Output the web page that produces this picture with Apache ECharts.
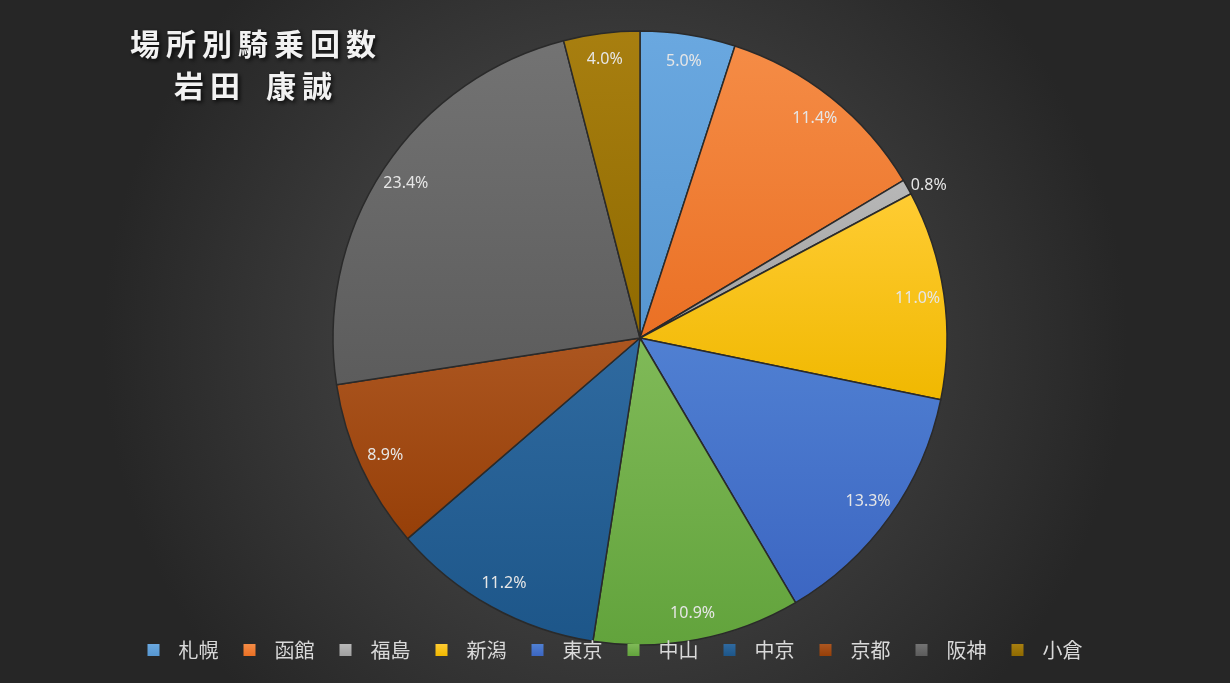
<!DOCTYPE html>
<html>
<head>
<meta charset="utf-8">
<script src="https://cdn.jsdelivr.net/npm/echarts@6/dist/echarts.min.js"></script>
<style>
  html, body { margin: 0; padding: 0; width: 100%; height: 100%; background: #333; }
  #main { width: 1230px; height: 683px; }
</style>
</head>
<body>
<div id="main"></div>
<script>
// 場所別騎乗回数 (割合)
var venues = ['札幌', '函館', '福島', '新潟', '東京', '中山', '中京', '京都', '阪神', '小倉'];
var shares = [5.0, 11.4, 0.8, 11.0, 13.3, 10.9, 11.2, 8.9, 23.4, 4.0];
var colorsTop = ['#6aa8e0', '#f58c46', '#b8b8b8', '#ffcc33', '#5080d2', '#80ba58', '#2f6aa0', '#ac5620', '#737373', '#a87f10'];
var colorsBottom = ['#5696d0', '#ea7024', '#a0a0a0', '#f0b800', '#3c66c2', '#62a33c', '#1d5689', '#963f08', '#5c5c5c', '#8f6a00'];
var titleLines = ['場所別騎乗回数', '岩田　康誠'];

var chart = echarts.init(document.getElementById('main'));

function sliceColor(i) {
    return new echarts.graphic.LinearGradient(0, 0, 0, 1, [
        { offset: 0, color: colorsTop[i] },
        { offset: 1, color: colorsBottom[i] }
    ]);
}

// 文字間を空けるため1文字ずつリッチテキストにする
function spaced(line) {
    return line.split('').map(function (ch) {
        return (ch === '　' ? '{s|' : '{c|') + ch + '}';
    }).join('');
}

var pieData = venues.map(function (name, i) {
    return { name: name, value: shares[i], itemStyle: { color: sliceColor(i) } };
});

// ラベル用の透明な外周リング (ラベルを外側寄りに置くため)
var labelData = venues.map(function (name, i) {
    var item = { name: name, value: shares[i] };
    if (shares[i] < 2) {
        item.label = { position: 'outside', distanceToLabelLine: 0, padding: [0, 0, 26, 0] };
        item.labelLine = { show: false, length: 4, length2: 0 };
    }
    return item;
});

var titleStyle = {
    color: '#f2f2f2',
    fontSize: 30,
    fontWeight: 'bold',
    lineHeight: 42,
    fontFamily: 'Noto Sans CJK JP',
    padding: [0, 3, 0, 3],
    textShadowColor: 'rgba(0,0,0,0.8)',
    textShadowBlur: 4,
    textShadowOffsetX: 2,
    textShadowOffsetY: 2
};

var option = {
    backgroundColor: new echarts.graphic.RadialGradient(0.5, 0.5, 0.75, [
        { offset: 0, color: '#535353' },
        { offset: 1, color: '#262626' }
    ]),
    title: {
        text: titleLines.map(spaced).join('\n'),
        left: 248,
        top: 18,
        textAlign: 'center',
        textStyle: {
            color: '#f2f2f2',
            fontSize: 30,
            fontWeight: 'bold',
            lineHeight: 42,
            fontFamily: 'Noto Sans CJK JP',
            rich: {
                c: titleStyle,
                s: { fontSize: 20, lineHeight: 42, fontFamily: 'Noto Sans CJK JP' }
            }
        }
    },
    legend: {
        bottom: 18,
        left: 'center',
        icon: 'rect',
        itemWidth: 12,
        itemHeight: 12,
        itemGap: 25,
        data: venues,
        itemStyle: { borderWidth: 0 },
        textStyle: {
            color: '#d9d9d9',
            fontSize: 20,
            fontFamily: 'Noto Sans CJK JP',
            padding: [0, 0, 0, 14]
        }
    },
    series: [
        {
            type: 'pie',
            center: [640, 338],
            radius: [0, 307],
            startAngle: 90,
            clockwise: true,
            silent: true,
            label: { show: false },
            labelLine: { show: false },
            itemStyle: { borderColor: '#2a2a2a', borderWidth: 1.5 },
            data: pieData
        },
        {
            type: 'pie',
            center: [640, 338],
            radius: [248, 307],
            startAngle: 90,
            clockwise: true,
            silent: true,
            legendHoverLink: false,
            itemStyle: { color: 'rgba(0,0,0,0)', borderWidth: 0 },
            label: {
                show: true,
                position: 'inside',
                formatter: function (p) { return p.value.toFixed(1) + '%'; },
                color: '#e6e6e6',
                fontSize: 16,
                fontFamily: 'Noto Sans'
            },
            labelLine: { show: false },
            data: labelData
        }
    ]
};

chart.setOption(option);
window.addEventListener('resize', function () { chart.resize(); });
</script>
</body>
</html>
